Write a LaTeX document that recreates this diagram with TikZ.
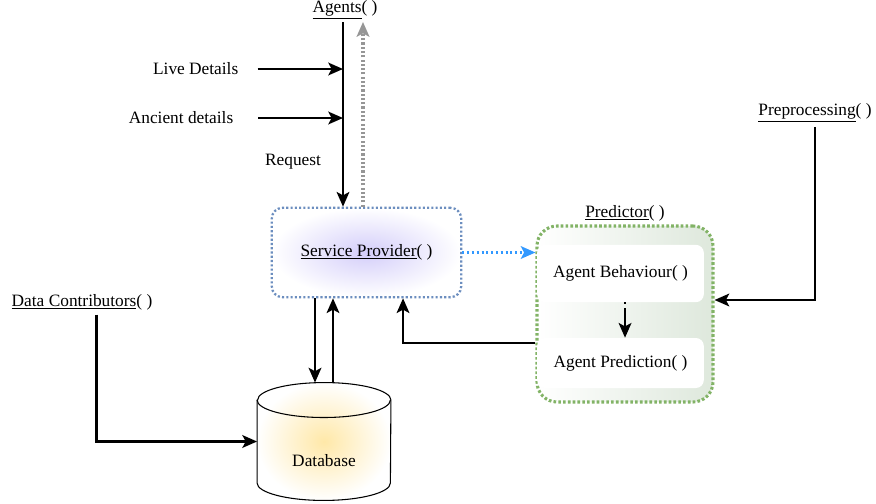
\documentclass[tikz,border=0pt]{standalone}
\usepackage{fontspec}
\setmainfont{Liberation Serif}
\usetikzlibrary{arrows.meta, positioning, shapes.geometric, calc}

\definecolor{spline}{RGB}{108,142,191}
\definecolor{spfill}{RGB}{212,206,250}
\definecolor{prline}{RGB}{130,179,102}
\definecolor{prfill}{RGB}{222,232,220}
\definecolor{dbfill}{RGB}{255,232,168}
\definecolor{bluearrow}{RGB}{51,153,255}
\definecolor{grayarrow}{RGB}{150,150,150}

\begin{document}
\begin{tikzpicture}[x=0.75pt,y=-0.75pt,every node/.style={font=\fontsize{13}{15}\selectfont},
    tip/.style={-{Stealth[length=11pt,width=9.5pt,inset=2.5pt]}},
    link/.style={line width=1.9pt,black,tip},
    reply/.style={line width=2.3pt,grayarrow,dash pattern=on 1.6pt off 1.6pt,tip},
    provider/.style={draw=spline,line width=1.7pt,dash pattern=on 1.6pt off 1.6pt,rounded corners=8pt,
        shading=radial,inner color=spfill,outer color=white,minimum width=142pt,minimum height=67pt},
    predictor/.style={draw=prline,line width=2.3pt,dash pattern=on 2pt off 1.6pt,rounded corners=15pt,
        left color=white,right color=prfill,minimum width=132pt,minimum height=132pt},
    inner/.style={fill=white,rounded corners=6pt,minimum width=125pt},
    store/.style={minimum width=100pt,minimum height=88pt},
    dbshade/.style={draw,line width=0.8pt,shading=radial,inner color=dbfill,outer color=white}]
    \useasboundingbox (0,0) rectangle (876,504);

    % labels on the left and the top
    \node[inner sep=1pt] (agents) at (345,10) {\underline{Agents}( )};
    \node (live) [anchor=east] at (243,69) {Live Details};
    \node (ancient) [anchor=east] at (238,118) {Ancient details};
    \node (request) at (293,162) {Request};
    \coordinate (in) at (343,22);
    \coordinate (out) at (363,22);

    % main blocks
    \node[provider] (sp) at (366.5,252.5) {\underline{Service Provider}( )};
    \node[predictor] (pred) at (625,314) {};
    \node (predlabel) [above=-1pt of pred] {\underline{Predictor}( )};
    \node[inner,minimum height=43pt] (behav) at (620.5,273.5) {Agent Behaviour( )};
    \node[inner,minimum height=37.5pt] (predict) at (620.5,363) {Agent Prediction( )};
    \node (prep) at (815,113) {\underline{Preprocessing}( )};
    \node (contrib) at (82,302) {\underline{Data Contributors}( )};

    % database drum
    \node[store] (db) at (324,441.5) {};
    \path[dbshade] ([yshift=-13.1pt]db.north west) -- ([yshift=13.1pt]db.south west)
        arc[start angle=180,end angle=360,x radius=50pt,y radius=13.1pt]
        -- ([yshift=-13.1pt]db.north east)
        arc[start angle=0,end angle=180,x radius=50pt,y radius=13.1pt] -- cycle;
    \draw[line width=0.8pt] ([yshift=-13.1pt]db.north west) arc[start angle=180,end angle=360,x radius=50pt,y radius=13.1pt];
    \node (dbtext) at ([yshift=-14.6pt]db.center) {Database};

    % connectors
    \draw[link] (in) -- (in |- sp.north);
    \draw[reply] (out |- sp.north) -- (out);
    \draw[link] ([xshift=11pt]live.east) -- (live.east -| in);
    \draw[link] ([xshift=15pt]ancient.east) -- (ancient.east -| in);
    \draw[line width=1.7pt,bluearrow,dash pattern=on 1.6pt off 2pt,tip]
        (sp.east) -- (sp.east -| pred.west);
    \draw[link,dash pattern=on 1.5pt off 3pt on 20pt] ([xshift=3.4pt]behav.south) -- ([xshift=3.4pt]predict.north);
    \draw[link] (prep.south) |- ([yshift=10.5pt]pred.east);
    \draw[link] ([xshift=11pt]contrib.south) |- (db.west);
    \draw[link] ([xshift=-6.75pt]db.north |- sp.south) -- ([xshift=-6.75pt]db.north);
    \draw[link] ([xshift=6.75pt]db.north) -- ([xshift=6.75pt]db.north |- sp.south);
    \draw[link] ([yshift=-21.75pt]pred.west) -| ([xshift=27.4pt]sp.south);
\end{tikzpicture}
\end{document}
